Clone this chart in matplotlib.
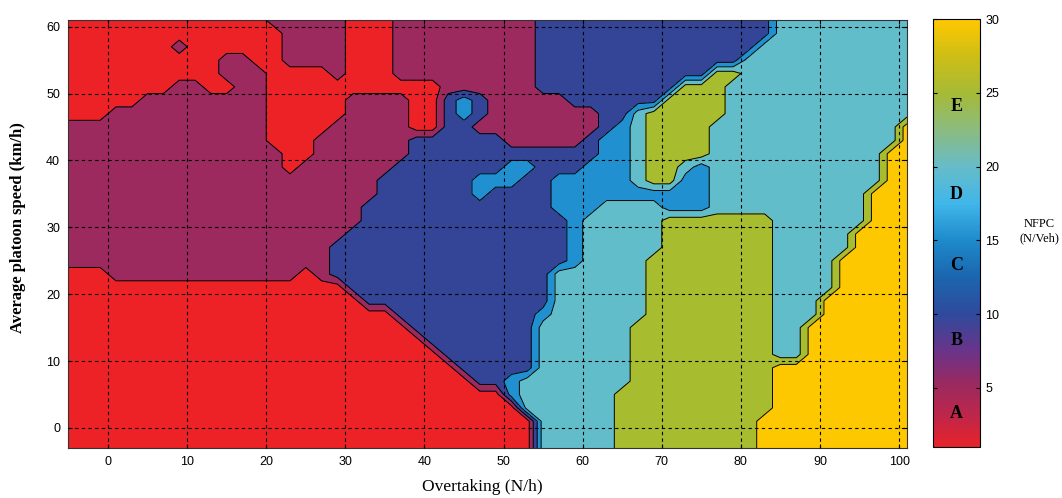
import numpy as np
import matplotlib
matplotlib.use("Agg")
import matplotlib.pyplot as plt
from matplotlib.colors import LinearSegmentedColormap, Normalize
from matplotlib.cm import ScalarMappable

# ---------------- data ----------------
# grid of the NFPC field: Overtaking (N/h) columns, speed (km/h) rows
x_values = np.arange(-5, 102, 2)     # 54 columns: -5 ... 101
y_values = np.arange(-3, 62, 2)      # 33 rows:    -3 ... 61

# NFPC class per grid node: 0=A(red) 1=purple 2=dark blue 3=blue 4=cyan 5=olive 6=yellow
# run-length rows (level, count), listed from y=61 down to y=-3
band_runs = [
    [(0,13),(1,5),(0,3),(1,9),(2,15),(4,9)],                                   # 61
    [(0,14),(1,4),(0,3),(1,9),(2,15),(4,9)],                                   # 59
    [(0,7),(1,1),(0,6),(1,4),(0,3),(1,9),(2,14),(4,10)],                       # 57
    [(0,10),(1,2),(0,2),(1,4),(0,3),(1,9),(2,13),(4,11)],                      # 55
    [(0,10),(1,3),(0,4),(1,1),(0,3),(1,9),(2,11),(5,2),(4,11)],                # 53
    [(0,7),(1,2),(0,2),(1,2),(0,11),(1,6),(2,9),(5,3),(4,12)],                 # 51
    [(0,5),(1,8),(0,5),(1,4),(0,2),(2,1),(3,1),(2,1),(1,5),(2,6),(5,4),(4,12)],# 49
    [(0,3),(1,10),(0,5),(1,4),(0,2),(2,1),(3,1),(2,1),(1,7),(2,2),(4,1),(5,5),(4,12)],  # 47
    [(1,13),(0,4),(1,5),(0,2),(2,2),(1,8),(2,1),(3,1),(4,1),(5,4),(4,12),(6,1)],        # 45
    [(1,13),(0,3),(1,6),(2,6),(1,5),(2,1),(3,2),(4,1),(5,4),(4,12),(6,1)],     # 43
    [(1,14),(0,2),(1,6),(2,12),(3,2),(4,1),(5,4),(4,11),(6,2)],                # 41
    [(1,14),(0,1),(1,6),(2,7),(3,2),(2,3),(3,3),(4,1),(5,2),(4,1),(3,1),(4,11),(6,2)],  # 39
    [(1,20),(2,6),(3,3),(2,2),(3,5),(4,1),(5,2),(3,2),(4,11),(6,2)],           # 37
    [(1,20),(2,6),(3,1),(2,4),(3,10),(4,10),(6,3)],                            # 35
    [(1,19),(2,12),(3,3),(4,4),(3,3),(4,10),(6,3)],                            # 33
    [(1,19),(2,13),(3,1),(4,5),(5,7),(4,6),(6,3)],                             # 31
    [(1,18),(2,14),(3,1),(4,5),(5,7),(4,5),(6,4)],                             # 29
    [(1,17),(2,15),(3,1),(4,5),(5,7),(4,5),(6,4)],                             # 27
    [(1,17),(2,15),(3,1),(4,4),(5,8),(4,4),(6,5)],                             # 25
    [(0,3),(1,12),(0,1),(1,1),(2,14),(4,6),(5,8),(4,4),(6,5)],                 # 23
    [(0,18),(2,13),(4,6),(5,8),(4,4),(6,5)],                                   # 21
    [(0,19),(2,12),(4,6),(5,8),(4,3),(6,6)],                                   # 19
    [(0,21),(2,9),(3,1),(4,6),(5,8),(4,3),(6,6)],                              # 17
    [(0,22),(2,8),(4,6),(5,9),(4,2),(6,7)],                                    # 15
    [(0,23),(2,7),(4,6),(5,9),(4,2),(6,7)],                                    # 13
    [(0,24),(2,6),(4,6),(5,9),(4,2),(6,7)],                                    # 11
    [(0,25),(2,5),(4,6),(5,9),(6,9)],                                          # 9
    [(0,26),(2,2),(3,1),(4,7),(5,9),(6,9)],                                    # 7
    [(0,28),(3,1),(4,6),(5,10),(6,9)],                                         # 5
    [(0,29),(4,6),(5,10),(6,9)],                                               # 3
    [(0,30),(4,5),(5,9),(6,10)],                                               # 1
    [(0,30),(4,5),(5,9),(6,10)],                                               # -1
    [(0,30),(4,5),(5,9),(6,10)],                                               # -3
]

x_ticks = [0, 10, 20, 30, 40, 50, 60, 70, 80, 90, 100]
y_ticks = [0, 10, 20, 30, 40, 50, 60]
cbar_ticks = [5, 10, 15, 20, 25, 30]
class_letters = ["A", "B", "C", "D", "E"]
class_letter_pos = [3.3, 8.2, 13.3, 18.1, 24.1]

# ---------------- styling ----------------
fill_colors = ["#EC2227", "#9C2A5E", "#344496", "#2090D0",
               "#62BDCB", "#A8BC2F", "#FEC800"]
cbar_anchor = [(1, "#E8232A"), (3, "#C0264A"), (5, "#9E295C"), (7.5, "#69348A"),
               (10, "#2F4A9C"), (12.5, "#1B66AE"), (15, "#1E8ACB"),
               (17.5, "#40B6EA"), (20, "#66BCC8"), (22.5, "#8BBB80"),
               (25, "#A5BA36"), (27.5, "#CDBE16"), (30, "#FFC800")]

sans_narrow = ["Liberation Sans Narrow", "DejaVu Sans Condensed",
               "Liberation Sans", "DejaVu Sans"]
serif = ["Liberation Serif", "DejaVu Serif"]


def expand(runs):
    row = []
    for level, count in runs:
        row += [level] * count
    assert len(row) == len(x_values), (len(row), runs)
    return row


Z = np.array([expand(r) for r in band_runs[::-1]], dtype=float)
X, Y = np.meshgrid(x_values, y_values)

W, H = 1062, 498
fig = plt.figure(figsize=(W / 100, H / 100), dpi=100)
ax = fig.add_axes([68.5 / W, (H - 448) / H, 838.5 / W, 428 / H])

levels = np.arange(-0.5, 7.0, 1.0)
ax.contourf(X, Y, Z, levels=levels, colors=fill_colors, zorder=1)
ax.contour(X, Y, Z, levels=levels[1:-1], colors="k", linewidths=0.7, zorder=2)

ax.set_xlim(-5, 101)
ax.set_ylim(-3, 61)
ax.set_xticks(x_ticks)
ax.set_yticks(y_ticks)
ax.set_axisbelow(False)
ax.grid(True, color="k", linestyle=(0, (3, 3)), linewidth=0.8)
ax.tick_params(direction="in", top=True, right=True, length=3, labelsize=9,
               pad=6)
for lab in ax.get_xticklabels() + ax.get_yticklabels():
    lab.set_family(sans_narrow)
for s in ax.spines.values():
    s.set_linewidth(0.8)
    s.set_color("#333333")

fig.text(482 / W, 1 - 487 / H, "Overtaking (N/h)", ha="center", va="center",
         family=serif, fontsize=12.5)
fig.text(18 / W, 1 - 228 / H, "Average platoon speed (km/h)", ha="center",
         va="center", rotation=90, family=serif, fontsize=12, fontweight="bold")

# colorbar
cmap = LinearSegmentedColormap.from_list(
    "nfpc", [((v - 1) / 29, c) for v, c in cbar_anchor])
cax = fig.add_axes([933 / W, (H - 447) / H, 47 / W, 428 / H])
cb = fig.colorbar(ScalarMappable(norm=Normalize(1, 30), cmap=cmap), cax=cax,
                  ticks=cbar_ticks)
cb.outline.set_linewidth(0.8)
cax.yaxis.set_ticks_position("both")
cax.tick_params(direction="in", length=3, labelsize=9, labelright=True,
                labelleft=False, pad=4)
for lab in cax.get_yticklabels():
    lab.set_family(sans_narrow)
for letter, pos in zip(class_letters, class_letter_pos):
    cax.text(0.5, pos, letter, transform=cax.get_yaxis_transform(),
             ha="center", va="center", family=serif, fontsize=13,
             fontweight="bold")

fig.text(1039 / W, 1 - 231 / H, "NFPC\n(N/Veh)", ha="center", va="center",
         family=serif, fontsize=9, linespacing=1.3)

fig.savefig("out.png", dpi=100)
